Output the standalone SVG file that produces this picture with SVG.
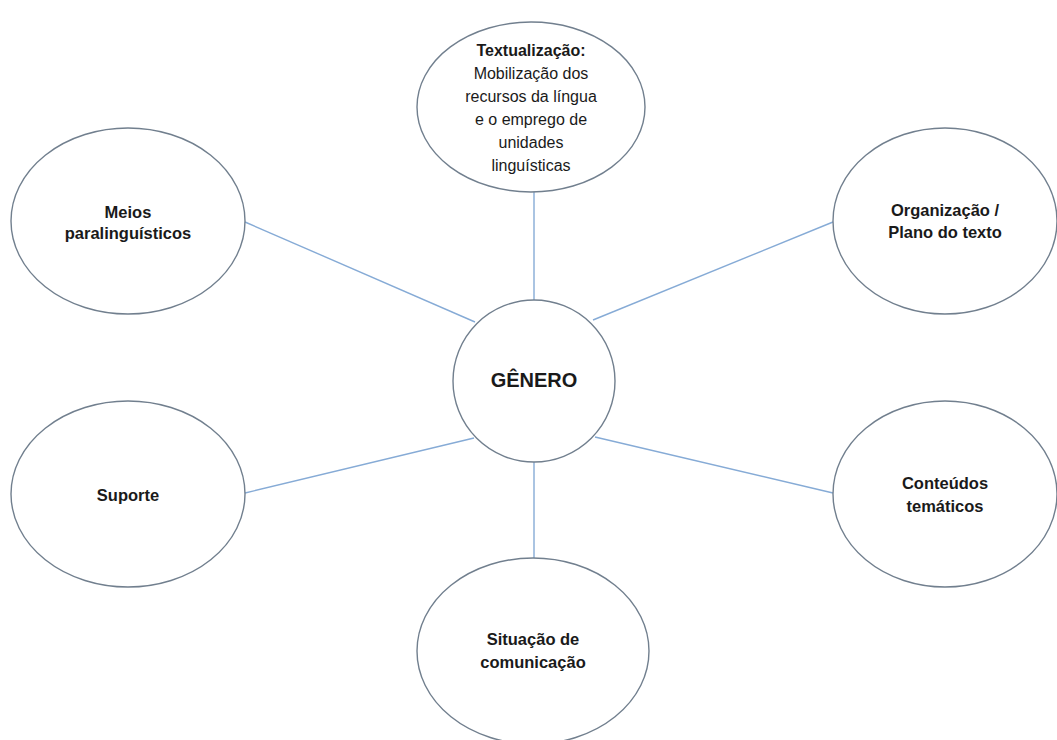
<svg xmlns="http://www.w3.org/2000/svg" width="1057" height="740" viewBox="0 0 1057 740">
<style>
.n{fill:#fff;stroke:#717f8e;stroke-width:1.4}
.c line{stroke:#86abd6;stroke-width:1.4}
text{font-family:"Liberation Sans",Arial,sans-serif;font-size:16.5px;fill:#1a1a1a;text-anchor:middle}
.b{font-weight:bold}
.t{font-size:16px}
</style>
<rect width="1057" height="740" fill="#fff"/>
<g class="c" id="connectors">
<line x1="534" y1="192" x2="534" y2="300"/>
<line x1="534" y1="462" x2="534" y2="558"/>
<line x1="245" y1="222" x2="475" y2="322"/>
<line x1="593" y1="320" x2="833" y2="222"/>
<line x1="245" y1="493" x2="474" y2="438"/>
<line x1="595" y1="437" x2="833" y2="493"/>
</g>
<g id="textualizacao">
<ellipse class="n" cx="531" cy="107" rx="114" ry="85"/>
<text class="t" x="531" y="56"><tspan class="b">Textualização:</tspan><tspan x="531" dy="23">Mobilização dos</tspan><tspan x="531" dy="23">recursos da língua</tspan><tspan x="531" dy="23">e o emprego de</tspan><tspan x="531" dy="23">unidades</tspan><tspan x="531" dy="23">linguísticas</tspan></text>
</g>
<g id="genero">
<circle class="n" cx="534" cy="381" r="81"/>
<text class="b" x="534" y="387" style="font-size:20px">GÊNERO</text>
</g>
<g id="meios">
<ellipse class="n" cx="128" cy="221" rx="117" ry="93"/>
<text class="b" x="128" y="218">Meios<tspan x="128" dy="21">paralinguísticos</tspan></text>
</g>
<g id="organizacao">
<ellipse class="n" cx="945" cy="221" rx="112" ry="93"/>
<text class="b" x="945" y="216">Organização /<tspan x="945" dy="22">Plano do texto</tspan></text>
</g>
<g id="suporte">
<ellipse class="n" cx="128" cy="494" rx="117" ry="93"/>
<text class="b" x="128" y="501">Suporte</text>
</g>
<g id="conteudos">
<ellipse class="n" cx="945" cy="494" rx="112" ry="93"/>
<text class="b" x="945" y="489">Conteúdos<tspan x="945" dy="23">temáticos</tspan></text>
</g>
<g id="situacao">
<ellipse class="n" cx="533" cy="651" rx="116" ry="93"/>
<text class="b" x="533" y="645">Situação de<tspan x="533" dy="23">comunicação</tspan></text>
</g>
</svg>
